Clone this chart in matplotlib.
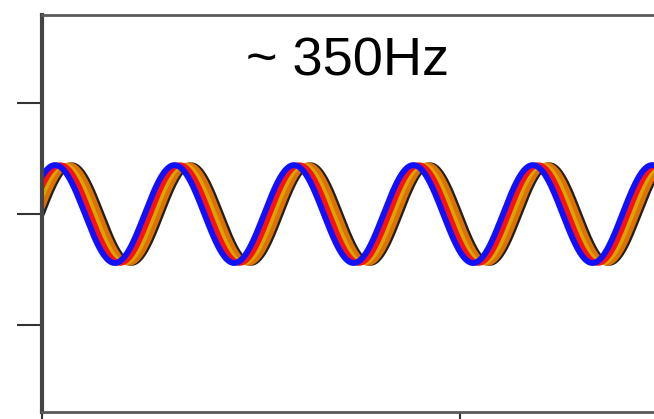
import matplotlib.pyplot as plt
import numpy as np

# values
freq_hz = 350.0
amp = 0.44
t_end_ms = 20.0
n_pts = 2000
# phase lead of each trace, in ms (back to front)
leads_ms = [0.0, 0.06, 0.16, 0.27, 0.40]
colors = ['#202020', '#e07000', '#d4a800', '#ff1010', '#1010ff']
widths = [4.0, 4.0, 3.0, 4.0, 4.3]
label = '~ 350Hz'
yticks = [-1, 0, 1]
xticks = [0, 10, 20]

t = np.linspace(0, t_end_ms, n_pts)

fig = plt.figure(figsize=(6.54, 4.19), dpi=100)
ax = fig.add_axes([42/654, 7/419, 836/654, 397/419])

for lead, c, lw in zip(leads_ms, colors, widths):
    y = amp*np.sin(2*np.pi*freq_hz*(t + lead)/1000.0)
    ax.plot(t, y, color=c, lw=lw, solid_capstyle='round')

ax.set_xlim(0, t_end_ms)
ax.set_ylim(-1.78, 1.79)
ax.set_xticks(xticks)
ax.set_yticks(yticks)
ax.set_xticklabels([])
ax.set_yticklabels([])
ax.tick_params(direction='out', length=18, width=1.5, color='#333333')
for s in ax.spines.values():
    s.set_color('#5a5a5a')
    s.set_linewidth(2.0)
ax.spines['left'].set_linewidth(3.0)
ax.spines['left'].set_color('#444444')

ax.text(7.3, 1.37, label, fontsize=39, family=['Liberation Sans', 'DejaVu Sans'],
        ha='center', va='center')

fig.savefig('out.png', dpi=100)
